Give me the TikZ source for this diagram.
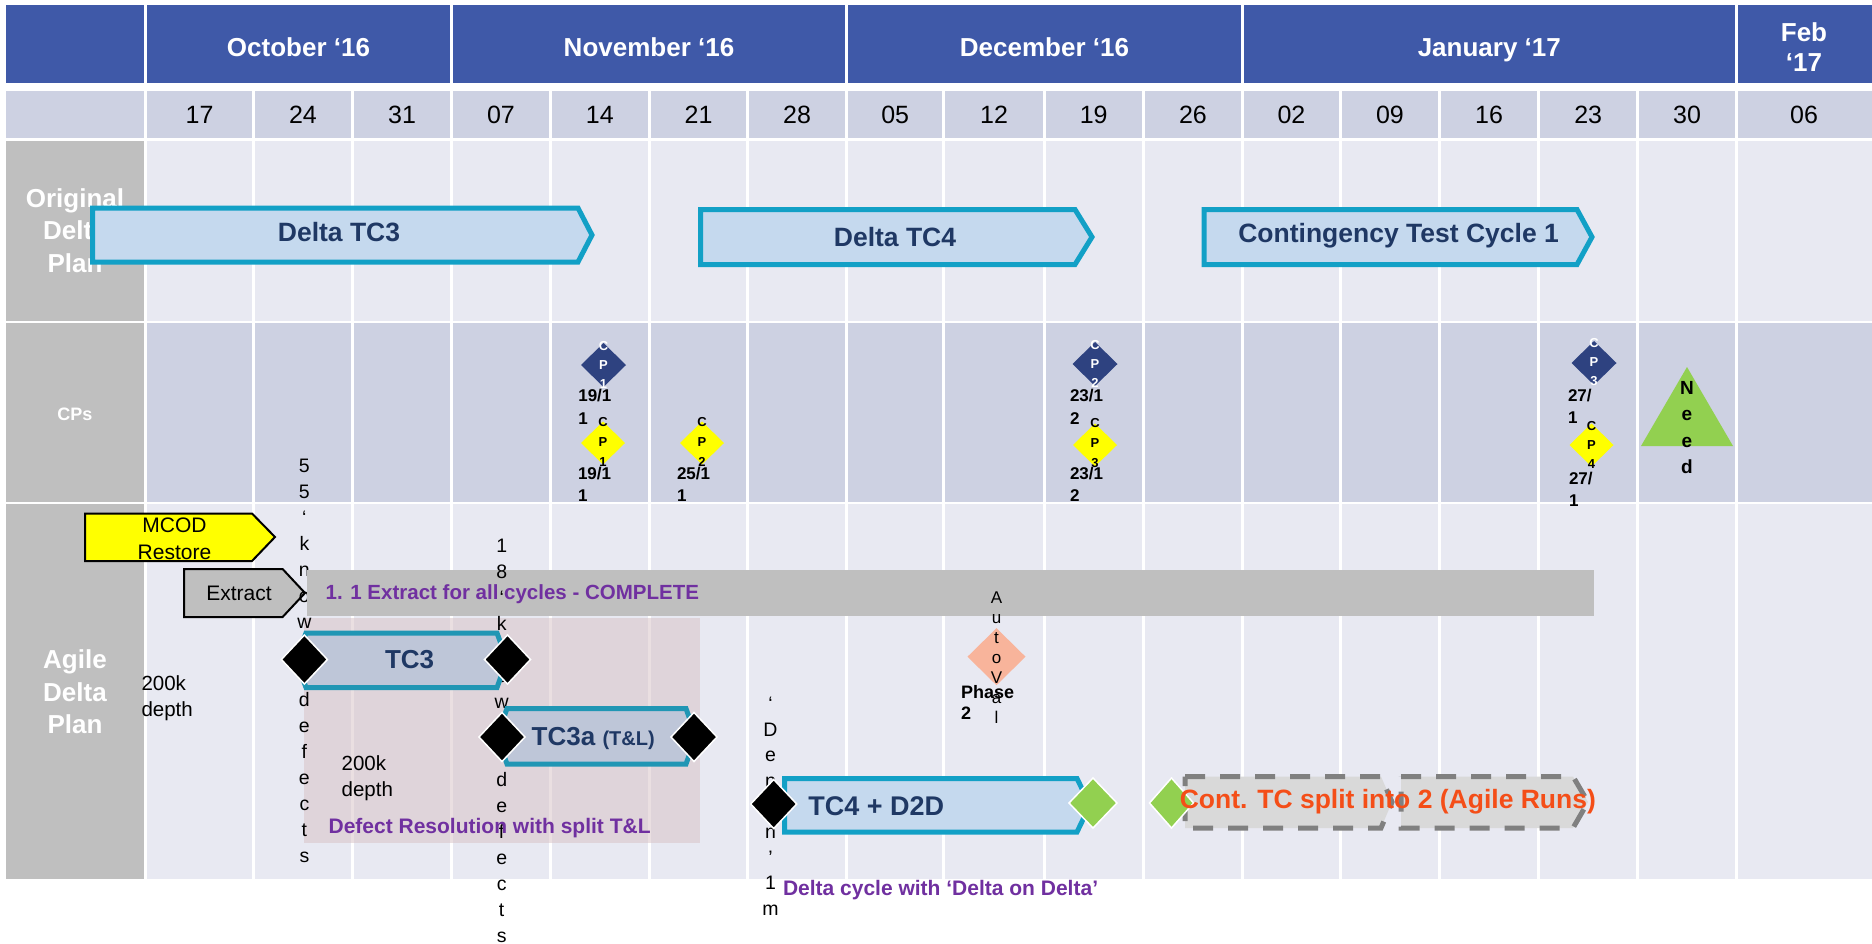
\documentclass[tikz,border=0pt]{standalone}
\usepackage{fontspec}
\setmainfont{Liberation Sans}
\usetikzlibrary{shapes.geometric}

\definecolor{hdrblue}{RGB}{63,89,168}
\definecolor{cellmid}{RGB}{205,209,226}
\definecolor{celllight}{RGB}{232,233,242}
\definecolor{lblgray}{RGB}{191,191,191}
\definecolor{tealline}{RGB}{18,160,198}
\definecolor{tealdark}{RGB}{32,150,180}
\definecolor{barblue}{RGB}{197,217,238}
\definecolor{bargray}{RGB}{190,198,216}
\definecolor{inknavy}{RGB}{31,56,100}
\definecolor{cpnavy}{RGB}{46,66,128}
\definecolor{cpyellow}{RGB}{255,255,0}
\definecolor{okgreen}{RGB}{146,208,80}
\definecolor{salmon}{RGB}{248,180,155}
\definecolor{purpletxt}{RGB}{112,48,160}
\definecolor{orangetxt}{RGB}{244,78,24}
\definecolor{pinkwash}{RGB}{215,192,196}
\definecolor{dashgray}{RGB}{128,128,128}
\definecolor{splitfill}{RGB}{217,217,217}

\newcommand\fsz[2]{\fontsize{#1}{#2}\selectfont}
% one node per line (or per character) stacked downwards
% #1 name prefix, #2 x, #3 first baseline, #4 line step, #5 style, #6 items
\newcommand\charstack[6]{%
  \foreach \ch [count=\k from 0] in {#6}{%
    \node[anchor=base,#5] (#1\k) at (#2,{#3+\k*#4}) {\ch};}}

\begin{document}
\begin{tikzpicture}[x=1pt,y=-1pt,
  every node/.style={inner sep=0pt, outer sep=0pt},
  month/.style={text=white, font=\bfseries\fsz{26}{30}},
  daytxt/.style={font=\fsz{25}{30}},
  rowlbl/.style={text=white, font=\bfseries\fsz{26}{32}},
  planbar/.style={draw=tealline, fill=barblue, line width=5pt},
  cyclebar/.style={draw=tealdark, fill=bargray, line width=5pt},
  bartxt/.style={text=inknavy, font=\bfseries\fsz{26.5}{30}},
  cpdate/.style={anchor=base west, font=\bfseries\fsz{17}{20}},
  cpnavymark/.style={diamond, fill=cpnavy, minimum width=45pt, minimum height=44pt},
  cpyellowmark/.style={diamond, fill=cpyellow, minimum width=44pt, minimum height=43pt},
  cpletter/.style={font=\bfseries\fsz{13}{15}},
  gate/.style={diamond, fill=black, draw=white, line width=1.5pt, minimum width=46pt, minimum height=49pt},
  greengate/.style={diamond, fill=okgreen, draw=white, line width=1.5pt, minimum width=48pt, minimum height=50pt},
  vtxt/.style={font=\fsz{19.5}{22}},
  notetxt/.style={text=purpletxt, anchor=base west, font=\bfseries\fsz{21}{24}},
  plaintxt/.style={font=\fsz{20.5}{24}},
  splitbox/.style={draw=dashgray, fill=splitfill, line width=5pt, dash pattern=on 20pt off 15pt},
  ]
\useasboundingbox (0,0) rectangle (1872,943);
\fill[white] (0,0) rectangle (1872,943);

% ---- grid ----
\fill[hdrblue] (6,5) rectangle (1872,83);
\fill[cellmid] (6,91) rectangle (1872,138);
\fill[lblgray] (6,141) rectangle (145.7,321);
\fill[celllight] (145.7,141) rectangle (1872,321);
\fill[lblgray] (6,323) rectangle (145.7,502);
\fill[cellmid] (145.7,323) rectangle (1872,502);
\fill[lblgray] (6,504) rectangle (145.7,879);
\fill[celllight] (145.7,504) rectangle (1872,879);
\foreach \b in {145.7,451.4,846.5,1242.4,1736.3}
  \draw[white,line width=3pt] (\b,5) -- (\b,83);
\foreach \b in {145.7,253.6,352.5,451.4,550.4,649.3,747.6,846.5,943.8,1044.1,1143.3,1242.4,1340.3,1439.5,1538.6,1637.7,1736.3}
  \draw[white,line width=3pt] (\b,91) -- (\b,879);

% ---- months and weeks ----
\node[month, anchor=base] (moct) at (298.5,56.3) {October ‘16};
\node[month, anchor=base] (mnov) at (649,56.3) {November ‘16};
\node[month, anchor=base] (mdec) at (1044.5,56.3) {December ‘16};
\node[month, anchor=base] (mjan) at (1489.3,56.3) {January ‘17};
\node[month, anchor=base] (mfeb) at (1804,41) {Feb};
\node[month, anchor=base] (mfebyr) at (1804,71) {‘17};
\foreach \x/\d in {199.6/17,303/24,402/31,500.9/07,599.8/14,698.5/21,797/28,895.2/05,994/12,1093.7/19,1192.9/26,1291.4/02,1389.9/09,1489.1/16,1588.2/23,1687/30,1804/06}
  \node[daytxt, anchor=base] (day\d) at (\x,123) {\d};

% ---- row labels ----
\charstack{lblorig}{75}{207.6}{32.2}{rowlbl}{Original,Delta,Plan}
\node[rowlbl, font=\bfseries\fsz{18}{20}, anchor=base] (lblcp) at (75,420.5) {CPs};
\charstack{lblagile}{75}{668.8}{32.3}{rowlbl}{Agile,Delta,Plan}

% ---- original plan ----
\draw[planbar] (92.5,208) -- (578,208) -- (592,235) -- (578,262) -- (92.5,262) -- cycle;
\node[bartxt, anchor=base] (tc3plan) at (339,241.5) {Delta TC3};
\draw[planbar] (700.5,209.5) -- (1075,209.5) -- (1092,237) -- (1075,264.5) -- (700.5,264.5) -- cycle;
\node[bartxt, anchor=base] (tc4plan) at (895,246) {Delta TC4};
\draw[planbar] (1204,209.5) -- (1577,209.5) -- (1592,237) -- (1577,264.5) -- (1204,264.5) -- cycle;
\node[bartxt, anchor=base] (contplan) at (1398.6,242.5) {Contingency Test Cycle 1};

% ---- checkpoints ----
\node[cpnavymark] (cp1n) at (603.5,365) {};
\charstack{cp1nl}{603.5}{350}{19}{cpletter,text=white}{C,P,1}
\charstack{cp1nd}{578.3}{401.5}{22.5}{cpdate}{19/1,1}
\node[cpyellowmark] (cp1y) at (603,443) {};
\charstack{cp1yl}{603}{426.6}{20}{cpletter}{C,P,1}
\charstack{cp1yd}{578}{479.3}{22.5}{cpdate}{19/1,1}
\node[cpyellowmark] (cp2y) at (702,443) {};
\charstack{cp2yl}{702}{426.6}{20}{cpletter}{C,P,2}
\charstack{cp2yd}{677}{479.3}{22.5}{cpdate}{25/1,1}
\node[cpnavymark] (cp2n) at (1095,364) {};
\charstack{cp2nl}{1095}{349}{19}{cpletter,text=white}{C,P,2}
\charstack{cp2nd}{1070}{401.5}{22.5}{cpdate}{23/1,2}
\node[cpyellowmark] (cp3y) at (1095,445) {};
\charstack{cp3yl}{1095}{427.6}{20}{cpletter}{C,P,3}
\charstack{cp3yd}{1070}{479.3}{22.5}{cpdate}{23/1,2}
\node[cpnavymark] (cp3n) at (1594,363) {};
\charstack{cp3nl}{1594}{347.6}{19}{cpletter,text=white}{C,P,3}
\charstack{cp3nd}{1568}{401}{22}{cpdate}{27/,1}
\node[cpyellowmark] (cp4y) at (1591.5,445) {};
\charstack{cp4yl}{1591.5}{430.6}{19}{cpletter}{C,P,4}
\charstack{cp4yd}{1569}{484.4}{22}{cpdate}{27/,1}
\fill[okgreen] (1641,446) -- (1687,367) -- (1733,446) -- cycle;
\charstack{need}{1687}{394.4}{26.3}{font=\bfseries\fsz{19}{22}}{N,e,e,d}

% ---- agile plan ----
\fill[pinkwash, fill opacity=.5] (304.4,618) rectangle (700.4,843);
\draw[fill=cpyellow, draw=black, line width=2pt] (85,513.5) -- (252,513.5) -- (275,537) -- (252,561) -- (85,561) -- cycle;
\charstack{mcod}{174.5}{532.5}{26.7}{font=\fsz{21}{24}}{MCOD,Restore}
\draw[fill=lblgray, draw=black, line width=2pt] (184,569) -- (282.6,569) -- (305,593) -- (282.6,617) -- (184,617) -- cycle;
\node[font=\fsz{21}{24}, anchor=base] (extract) at (239,600.5) {Extract};
\charstack{known55}{304.4}{472.9}{26}{vtxt}{5,5,‘,k,n,o,w,n,{},d,e,f,e,c,t,s}
\fill[lblgray] (307,570) rectangle (1594,616);
\node[notetxt, font=\bfseries\fsz{20.5}{24}] (extractall) at (325.7,599.3) {1. 1 Extract for all cycles - COMPLETE};
\charstack{known18}{501.7}{552.2}{26}{vtxt}{1,8,‘,k,n,o,w,n,{},d,e,f,e,c,t,s}

\draw[cyclebar] (296,660) -- (306,633) -- (497,633) -- (507,660) -- (497,687.5) -- (306,687.5) -- cycle;
\node[bartxt, font=\bfseries\fsz{26}{30}, anchor=base] (tc3txt) at (409.6,668.6) {TC3};
\draw[cyclebar] (497,736.5) -- (507,708.5) -- (686,708.5) -- (696,736.5) -- (686,764) -- (507,764) -- cycle;
\node[bartxt, font=\bfseries\fsz{26}{30}, anchor=base west] (tc3atxt) at (531.7,745.6) {TC3a {\fsz{20}{24}(T\&L)}};
\node[gate] (tc3start) at (304.4,659.5) {};
\node[gate] (tc3end) at (507.5,659.5) {};
\node[gate] (tc3astart) at (502,737) {};
\node[gate] (tc3aend) at (694,737) {};

\charstack{depthA}{141.5}{690.6}{26}{plaintxt,anchor=base west}{200k,depth}
\charstack{depthB}{341.7}{770.3}{26}{plaintxt,anchor=base west}{200k,depth}
\node[notetxt] (defectres) at (328.6,833.3) {Defect Resolution with split T\&L};

\draw[planbar] (784.5,778.5) -- (1077,778.5) -- (1090,805) -- (1077,832) -- (784.5,832) -- cycle;
\charstack{denn}{770.5}{710.5}{25.6}{vtxt}{‘,D,e,n,{},n,’,1,m}
\node[gate] (tc4start) at (773.7,804) {};
\node[bartxt, font=\bfseries\fsz{27}{30}, anchor=base west] (tc4txt) at (808.4,815) {TC4 + D2D};
\node[greengate] (tc4end) at (1093,803) {};

\draw[splitbox] (1185,776.5) -- (1381,776.5) -- (1392,802) -- (1381,828) -- (1185,828) -- cycle;
\draw[splitbox] (1401,776.5) -- (1573,776.5) -- (1588,802) -- (1573,828) -- (1401,828) -- cycle;
\node[greengate, minimum width=44pt] (contstart) at (1171.5,803) {};
\node[anchor=base west, text=orangetxt, font=\bfseries\fsz{26.5}{30}] (conttxt) at (1179.8,808.2) {Cont. TC split into 2 (Agile Runs)};
\node[notetxt] (deltacycle) at (783,895) {Delta cycle with ‘Delta on Delta’};

\node[diamond, fill=salmon, minimum width=58pt, minimum height=57pt] (autoval) at (996.5,656.7) {};
\charstack{autovaltxt}{996.5}{603.8}{20}{font=\fsz{17}{20}}{A,u,t,o,V,a,l}
\charstack{phase}{961}{698}{21.5}{anchor=base west, font=\bfseries\fsz{18}{21}}{Phase,2}
\end{tikzpicture}
\end{document}
